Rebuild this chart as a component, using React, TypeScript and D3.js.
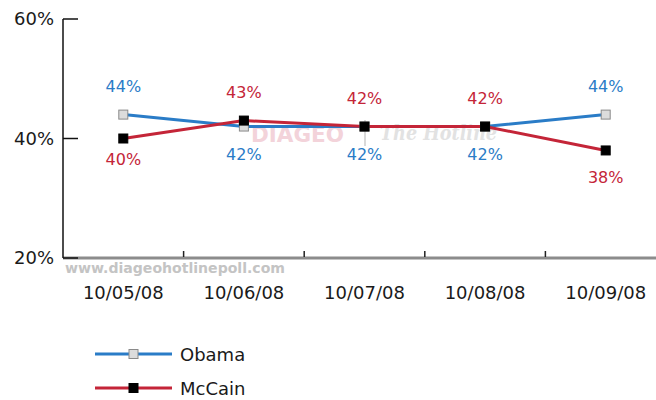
import * as d3 from "d3";

const dates = ["10/05/08", "10/06/08", "10/07/08", "10/08/08", "10/09/08"];
const obama = [44, 42, 42, 42, 44];
const mccain = [40, 43, 42, 42, 38];
// label offset from the point (px): negative = above, positive = below
const obamaLabelDy = [-23, 33, 33, 33, -23];
const mccainLabelDy = [26, -23, -23, -23, 33];
const yTicks = [20, 40, 60];

const width = 656;
const height = 400;
const font = "'DejaVu Sans', sans-serif";
const blue = "#2a7cc7";
const red = "#c42538";

export default function App() {
  const x = d3.scaleBand().domain(dates).range([63, 666]);
  const y = d3.scaleLinear().domain([20, 60]).range([258, 19]);
  const cx = (d: string) => x(d)! + x.bandwidth() / 2;

  const line = d3
    .line<number>()
    .x((_, i) => cx(dates[i]))
    .y((v) => y(v));

  const series = [
    { name: "Obama", values: obama, dy: obamaLabelDy, color: blue, fill: "#dcdcdc", stroke: "#8a8a8a" },
    { name: "McCain", values: mccain, dy: mccainLabelDy, color: red, fill: "#000", stroke: "#000" },
  ];

  return (
    <svg
      width={width}
      height={height}
      style={{ position: "absolute", left: 0, top: 0, background: "#fff" }}
      fontFamily={font}
    >
      {/* watermarks */}
      <text x={251} y={142} fontSize={22} fontWeight="bold" fill="#f3d3da" textLength={93} lengthAdjust="spacingAndGlyphs">
        DIAGEO
      </text>
      <line x1={365} x2={365} y1={120} y2={146} stroke="#ccc" strokeWidth={1.5} />
      <text
        x={380}
        y={140}
        fontSize={20}
        fontStyle="italic"
        fontWeight="bold"
        fontFamily="'DejaVu Serif', serif"
        fill="#e2e2e2"
        textLength={117}
        lengthAdjust="spacingAndGlyphs"
      >
        The Hotline
      </text>
      <text
        x={65}
        y={273}
        fontSize={14}
        fontWeight="bold"
        fill="#c4c4c4"
        textLength={220}
        lengthAdjust="spacingAndGlyphs"
      >
        www.diageohotlinepoll.com
      </text>

      {/* x axis */}
      <line x1={63} x2={width} y1={258} y2={258} stroke="#8c8c8c" strokeWidth={3} />
      {dates.slice(1).map((d) => (
        <line key={d} x1={x(d)!} x2={x(d)!} y1={251} y2={257} stroke="#222" strokeWidth={1.5} />
      ))}
      {dates.map((d) => (
        <text key={d} x={cx(d)} y={299} textAnchor="middle" fontSize={18} fill="#1a1a1a">
          {d}
        </text>
      ))}

      {/* y axis */}
      <line x1={63} x2={63} y1={19} y2={258} stroke="#111" strokeWidth={1.5} />
      {yTicks.map((t) => (
        <g key={t}>
          <line x1={63} x2={78} y1={y(t)} y2={y(t)} stroke="#111" strokeWidth={1.5} />
          <text x={54} y={y(t) + 6} textAnchor="end" fontSize={18} fill="#1a1a1a">
            {t}%
          </text>
        </g>
      ))}

      {/* lines */}
      {series.map((s) => (
        <path key={s.name} d={line(s.values)!} fill="none" stroke={s.color} strokeWidth={3} />
      ))}
      {series.map((s) =>
        s.values.map((v, i) => (
          <rect
            key={s.name + i}
            x={cx(dates[i]) - 4.5}
            y={y(v) - 4.5}
            width={9}
            height={9}
            fill={s.fill}
            stroke={s.stroke}
            strokeWidth={1}
          />
        ))
      )}
      {series.map((s) =>
        s.values.map((v, i) => (
          <text
            key={"l" + s.name + i}
            x={cx(dates[i])}
            y={y(v) + s.dy[i]}
            textAnchor="middle"
            fontSize={16}
            fill={s.color}
          >
            {v}%
          </text>
        ))
      )}

      {/* legend */}
      {series.map((s, i) => {
        const ly = 354 + i * 34;
        return (
          <g key={"lg" + s.name}>
            <line x1={95} x2={172} y1={ly} y2={ly} stroke={s.color} strokeWidth={3} />
            <rect x={129} y={ly - 4.5} width={9} height={9} fill={s.fill} stroke={s.stroke} strokeWidth={1} />
            <text x={180} y={ly + 7} fontSize={18} fill="#1a1a1a">
              {s.name}
            </text>
          </g>
        );
      })}
    </svg>
  );
}
